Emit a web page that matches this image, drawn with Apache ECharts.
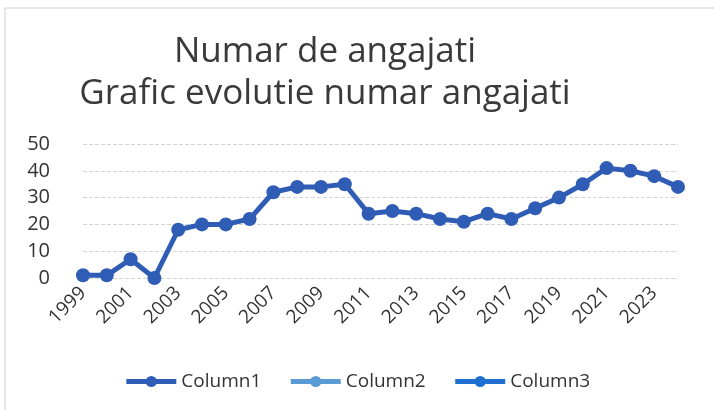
<!DOCTYPE html>
<html><head><meta charset="utf-8">
<script src="https://cdn.jsdelivr.net/npm/echarts@6/dist/echarts.min.js"></script>
<style>html,body{margin:0;padding:0;background:#fff}#c{width:714px;height:410px}</style>
</head><body><div id="c"></div>
<script>
const years = ['1999','2000','2001','2002','2003','2004','2005','2006','2007','2008','2009','2010','2011','2012','2013','2014','2015','2016','2017','2018','2019','2020','2021','2022','2023','2024'];
const column1 = [1,1,7,0,18,20,20,22,32,34,34,35,24,25,24,22,21,24,22,26,30,35,41,40,38,34];
const column2 = [];
const column3 = [];
const yTicks = [0,10,20,30,40,50];

const chart = echarts.init(document.getElementById('c'));
const font = '"Open Sans", "Noto Sans", sans-serif';
chart.setOption({
  animation: false,
  graphic: [{type:'rect', shape:{x:5,y:8,width:720,height:420}, style:{fill:'none', stroke:'#cfcfcf', lineWidth:1}}],
  title: {
    text: 'Numar de angajati\nGrafic evolutie numar angajati',
    left: 320, top: 26, textAlign: 'center',
    textStyle: {fontFamily: font, fontWeight: 'normal', fontSize: 35, color: '#3a3a3a', lineHeight: 42}
  },
  legend: {
    bottom: 14, left: 'center', itemWidth: 50, itemHeight: 14, itemGap: 27,
    lineStyle: {width: 5},
    textStyle: {fontFamily: font, fontSize: 19, color: '#333'},
    data: ['Column1','Column2','Column3']
  },
  grid: {left: 83, right: 36, top: 144, bottom: 132},
  xAxis: {
    type: 'category', data: years, boundaryGap: false,
    axisLine: {show: false}, axisTick: {show: false},
    axisLabel: {rotate: 45, interval: 1, fontFamily: font, fontSize: 19, color: '#333', margin: 12}
  },
  yAxis: {
    type: 'value', min: 0, max: 50, interval: 10,
    axisLabel: {fontFamily: font, fontSize: 20, color: '#333', margin: 33},
    splitLine: {lineStyle: {color: '#d4d4d4', type: 'dashed'}}
  },
  series: [
    {name:'Column1', type:'line', data: column1, symbol:'circle', symbolSize: 14,
     lineStyle:{width:5, color:'#2f5db5'}, itemStyle:{color:'#2f5db5'}},
    {name:'Column2', type:'line', data: column2, symbol:'circle', symbolSize: 14,
     lineStyle:{width:5, color:'#5b9bd5'}, itemStyle:{color:'#5b9bd5'}},
    {name:'Column3', type:'line', data: column3, symbol:'circle', symbolSize: 14,
     lineStyle:{width:5, color:'#1f6fd0'}, itemStyle:{color:'#1f6fd0'}}
  ]
});
</script></body></html>
